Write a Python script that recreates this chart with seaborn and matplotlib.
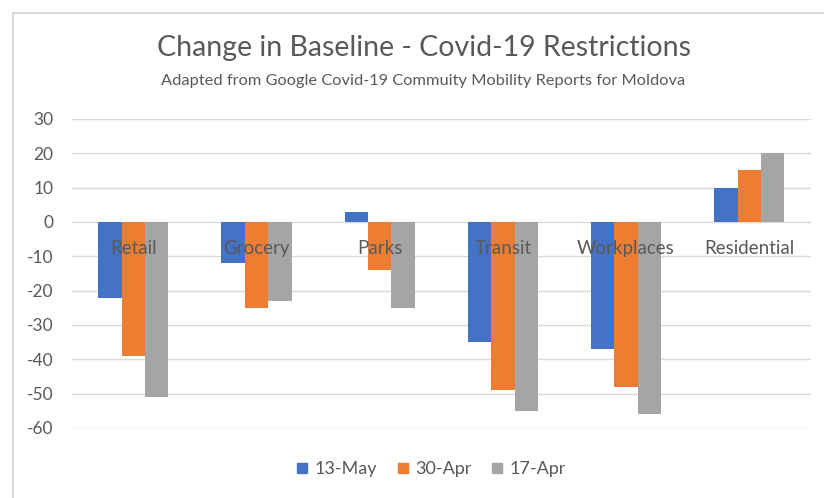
import matplotlib
matplotlib.use('Agg')
import matplotlib.pyplot as plt
from matplotlib.lines import Line2D
import seaborn as sns
import pandas as pd

# Google mobility change vs baseline, Moldova
categories = ['Retail', 'Grocery', 'Parks', 'Transit', 'Workplaces', 'Residential']
series = ['13-May', '30-Apr', '17-Apr']
may_13 = [-22, -12, 3, -35, -37, 10]
apr_30 = [-39, -25, -14, -49, -48, 15]
apr_17 = [-51, -23, -25, -55, -56, 20]
yticks = [30, 20, 10, 0, -10, -20, -30, -40, -50, -60]

colors = ['#4472C4', '#ED7D31', '#A5A5A5']
text_col = '#595959'

rows = []
for name, vals in zip(series, [may_13, apr_30, apr_17]):
    for cat, v in zip(categories, vals):
        rows.append({'category': cat, 'date': name, 'change': v})
df = pd.DataFrame(rows)

sns.set_style('white')
plt.rcParams['font.family'] = ['Lato', 'DejaVu Sans']

fig = plt.figure(figsize=(8.24, 4.98), dpi=100)
ax = fig.add_axes([0.087, 0.1406, 0.897, 0.6205])

sns.barplot(data=df, x='category', y='change', hue='date', order=categories,
            hue_order=series, palette=colors, width=0.57, gap=0,
            saturation=1, edgecolor='none', linewidth=0, ax=ax, legend=False)

ax.set_ylim(-60, 30)
ax.set_xlim(-0.5, len(categories) - 0.5)
ax.set_yticks(yticks)
ax.set_yticklabels([str(t) for t in yticks], color=text_col, fontsize=12.5)
ax.yaxis.grid(True, color='#D9D9D9', linewidth=1)
ax.set_axisbelow(True)
ax.tick_params(axis='y', length=0, pad=13)
ax.set_xticks([])
ax.set_xlabel('')
ax.set_ylabel('')
for s in ax.spines.values():
    s.set_visible(False)

# category labels sit just under the zero line, Excel style
for i, cat in enumerate(categories):
    ax.text(i, -7.6, cat, ha='center', va='center', fontsize=13.5, color=text_col, zorder=5)

fig.text(0.515, 0.903, 'Change in Baseline - Covid-19 Restrictions',
         ha='center', va='center', fontsize=20.5, color=text_col)
fig.text(0.514, 0.838, 'Adapted from Google Covid-19 Commuity Mobility Reports for Moldova',
         ha='center', va='center', fontsize=11.8, color=text_col)

handles = [Line2D([0], [0], marker='s', linestyle='none', markersize=7,
                  markerfacecolor=c, markeredgecolor=c) for c in colors]
fig.legend(handles, series, loc='center', bbox_to_anchor=(0.518, 0.058), ncol=3,
           frameon=False, fontsize=13, labelcolor=text_col, handletextpad=-0.1,
           handlelength=1.6, columnspacing=0.6)

# chart border (left and top edges visible)
fig.add_artist(Line2D([0.016, 0.016], [0.0, 0.974], transform=fig.transFigure,
                      color='#D9D9D9', linewidth=1.5))
fig.add_artist(Line2D([0.016, 1.0], [0.974, 0.974], transform=fig.transFigure,
                      color='#D9D9D9', linewidth=1.5))

fig.savefig('out.png', dpi=100)
